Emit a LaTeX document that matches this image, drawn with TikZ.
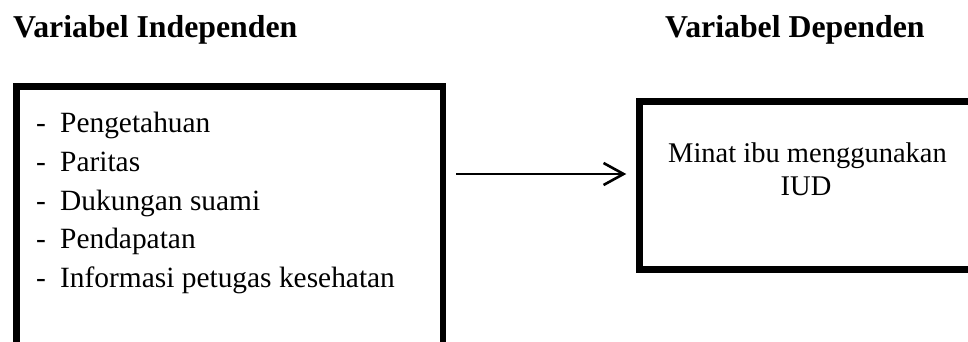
\documentclass[tikz,border=0pt]{standalone}
\usepackage{fontspec}
\setmainfont{Liberation Serif}
\usetikzlibrary{arrows.meta}
\begin{document}
\begin{tikzpicture}[x=1pt,y=1pt,
  frame/.style={draw=black,line width=6.5pt,inner sep=0pt},
  body/.style={font=\fontsize{28.5}{34}\selectfont,inner sep=0pt},
  heading/.style={font=\fontsize{31.8}{38}\selectfont\bfseries,inner sep=0pt,anchor=base west},
  item/.style={font=\fontsize{29.4}{34}\selectfont,inner sep=0pt,anchor=base west},
  link/.style={line width=2.6pt,-{Straight Barb[length=20pt,width=22pt,line width=2.6pt]}}
]
\path[use as bounding box] (0,0) rectangle (968,-342);
\clip (0,0) rectangle (968,-342);

% headings
\node[heading] (hind) at (13,-38) {Variabel Independen};
\node[heading] (hdep) at (665,-38) {Variabel Dependen};

% left frame (runs past the lower edge)
\node[frame,minimum width=426.5pt,minimum height=300pt,anchor=north west] (indep) at (13.25,-83.25) {};
% right frame (runs past the right edge)
\node[frame,minimum width=350pt,minimum height=168pt,anchor=north west] (dep) at (636.25,-98.25) {};

% independent variables
\node[item] (i1) at (36,-132) {\makebox[24pt][l]{-}Pengetahuan};
\node[item] (i2) at (36,-171) {\makebox[24pt][l]{-}Paritas};
\node[item] (i3) at (36,-210) {\makebox[24pt][l]{-}Dukungan suami};
\node[item] (i4) at (36,-248.5) {\makebox[24pt][l]{-}Pendapatan};
\node[item] (i5) at (36,-287) {\makebox[24pt][l]{-}Informasi petugas kesehatan};

% dependent variable
\node[body,anchor=base] (d1) at (807.5,-162) {Minat ibu menggunakan};
\node[body,anchor=base] (d2) at (806,-195) {IUD};

% relation
\coordinate (row) at (0,-174);
\draw[link,shorten <=10pt,shorten >=10pt] (indep.east |- row) -- (dep.west |- row);
\end{tikzpicture}
\end{document}
